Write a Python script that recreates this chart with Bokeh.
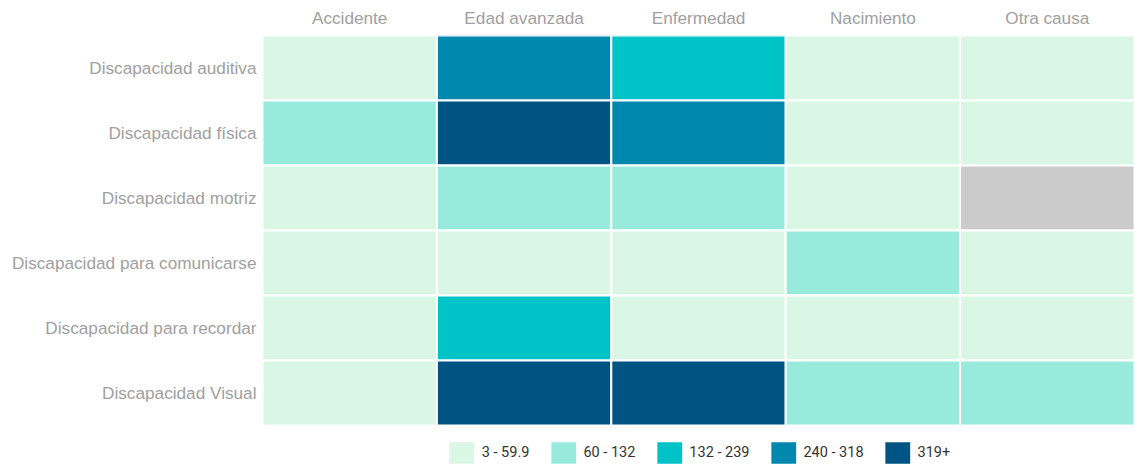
import math
from bokeh.plotting import figure
from bokeh.layouts import column
from bokeh.models import ColumnDataSource, FactorRange, Legend, LegendItem
from bokeh.transform import factor_cmap
from bokeh.embed import file_html
from bokeh.resources import INLINE

causes = ["Accidente", "Edad avanzada", "Enfermedad", "Nacimiento", "Otra causa"]
types = [
    "Discapacidad auditiva",
    "Discapacidad física",
    "Discapacidad motriz",
    "Discapacidad para comunicarse",
    "Discapacidad para recordar",
    "Discapacidad Visual",
]

# values per disability type, in the order of `causes` (NaN = sin dato)
auditiva = [22, 285, 195, 35, 12]
fisica = [95, 410, 270, 40, 18]
motriz = [45, 110, 85, 12, float("nan")]
comunicarse = [6, 25, 30, 75, 9]
recordar = [12, 160, 50, 28, 5]
visual = [48, 360, 335, 115, 68]
series = [auditiva, fisica, motriz, comunicarse, recordar, visual]

bin_labels = ["3 - 59.9", "60 - 132", "132 - 239", "240 - 318", "319+"]
bin_lows = [3, 60, 132, 240, 319]
bin_colors = ["#daf7e6", "#98ebdc", "#00c3c7", "#0087ad", "#005483"]
missing_label = "Sin dato"
missing_color = "#cbcbcb"


def bin_of(v):
    if v is None or (isinstance(v, float) and math.isnan(v)):
        return missing_label
    lab = bin_labels[0]
    for lo, l in zip(bin_lows, bin_labels):
        if v >= lo:
            lab = l
    return lab


xs, ys, vs, bins = [], [], [], []
for t, vals in zip(types, series):
    for c, v in zip(causes, vals):
        xs.append(c)
        ys.append(t)
        vs.append(v)
        bins.append(bin_of(v))

src = ColumnDataSource(dict(x=xs, y=ys, v=vs, bin=bins))
cmap = factor_cmap("bin", palette=bin_colors + [missing_color],
                   factors=bin_labels + [missing_label])

LEFT = 262
FW = 872

p = figure(
    x_range=FactorRange(factors=causes),
    y_range=FactorRange(factors=list(reversed(types))),
    frame_width=FW,
    frame_height=390,
    x_axis_location="above",
    output_backend="svg",
    toolbar_location=None,
    min_border_left=LEFT,
    min_border_right=0,
    min_border_top=35,
    min_border_bottom=0,
)
p.outline_line_color = None
p.background_fill_color = "white"
p.border_fill_color = "white"
p.grid.visible = False

r = p.rect(x="x", y="y", width=1, height=1, source=src,
           fill_color=cmap, line_color="white", line_width=2)

for ax in (p.xaxis[0], p.yaxis[0]):
    ax.axis_line_color = None
    ax.major_tick_line_color = None
    ax.minor_tick_line_color = None
    ax.major_tick_out = 0
    ax.major_tick_in = 0
    ax.minor_tick_out = 0
    ax.major_label_text_color = "#a0a0a0"
    ax.major_label_text_font = "Liberation Sans"
    ax.major_label_text_font_size = "17.2px"
p.xaxis.major_label_standoff = 8
p.yaxis.major_label_standoff = 6

# legend strip below the heatmap
leg = figure(
    x_range=FactorRange(factors=causes),
    y_range=FactorRange(factors=list(reversed(types))),
    frame_width=FW,
    frame_height=41,
    x_axis_type=None,
    y_axis_type=None,
    output_backend="svg",
    toolbar_location=None,
    min_border_left=LEFT,
    min_border_right=0,
    min_border_top=0,
    min_border_bottom=0,
)
leg.outline_line_color = None
leg.grid.visible = False
r2 = leg.rect(x="x", y="y", width=1, height=1, source=src,
              fill_color=cmap, line_color=None)
r2.visible = False

items = []
for lab in bin_labels:
    idx = bins.index(lab)
    items.append(LegendItem(label=lab, renderers=[r2], index=idx))

legend = Legend(
    items=items,
    orientation="horizontal",
    location="bottom",
    glyph_width=31,
    glyph_height=27,
    label_height=27,
    label_standoff=5,
    spacing=18,
    padding=0,
    margin=0,
    border_line_color=None,
    background_fill_alpha=0,
    inactive_fill_alpha=0,
    label_text_font="Roboto",
    label_text_font_size="14.5px",
    label_text_color="#333333",
)
leg.add_layout(legend, "center")

layout = column(p, leg, spacing=0)
open("out.html", "w").write(file_html(layout, INLINE))
